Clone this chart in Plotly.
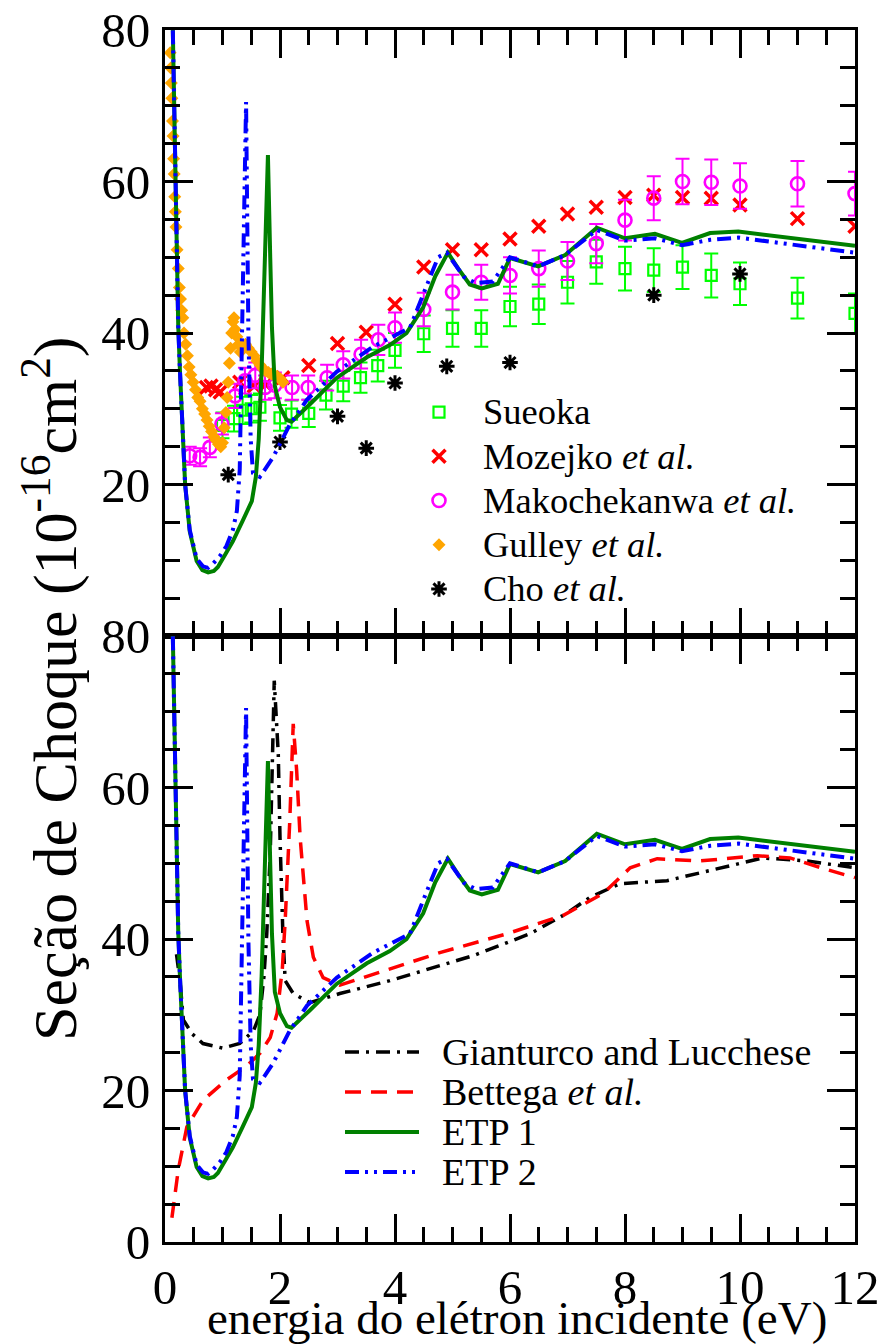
import plotly.graph_objects as go

# ---------------- data ----------------
# theory curves (shared by both panels)
etp1_x = [0.10, 0.14, 0.17, 0.20, 0.23, 0.26, 0.29, 0.35, 0.43, 0.55, 0.65, 0.75, 0.85, 0.92, 1.05, 1.18, 1.35,
          1.51, 1.58, 1.63, 1.68, 1.74, 1.79, 1.83, 1.86, 1.91, 2.00, 2.12, 2.20, 2.52, 2.99, 3.51, 3.91, 4.20,
          4.49, 4.70, 4.92, 5.10, 5.30, 5.51, 5.79, 6.00, 6.49, 6.96, 7.51, 8.00, 8.52, 8.99, 9.48, 9.97, 12.0]
etp1_y = [95.0, 79.6, 62.0, 51.3, 41.0, 35.0, 30.2, 20.0, 13.8, 9.9, 8.7, 8.4, 8.6, 9.1, 10.8, 12.5, 15.2,
          17.8, 21.0, 26.0, 35.0, 50.0, 63.5, 50.0, 40.7, 33.0, 30.2, 28.5, 28.3, 30.6, 34.1, 36.8, 38.4, 40.0,
          43.4, 47.5, 50.6, 48.5, 46.4, 45.9, 46.5, 49.9, 48.8, 50.3, 53.9, 52.5, 53.1, 51.9, 53.2, 53.4, 51.5]

etp2_x = [0.10, 0.14, 0.17, 0.20, 0.23, 0.26, 0.29, 0.35, 0.43, 0.55, 0.66, 0.75, 0.83, 0.95, 1.07, 1.18, 1.25,
          1.30, 1.34, 1.38, 1.41, 1.45, 1.49, 1.53, 1.65, 1.88, 2.17, 2.47, 2.99, 3.62, 3.97, 4.26, 4.49, 4.75,
          4.90, 5.20, 5.40, 5.70, 6.00, 6.49, 6.96, 7.51, 8.00, 8.52, 8.99, 9.48, 9.97, 12.0]
etp2_y = [95.0, 79.6, 62.0, 51.0, 41.0, 35.0, 30.0, 20.0, 14.0, 10.2, 9.2, 9.0, 9.5, 10.5, 11.9, 14.0, 16.5,
          22.0, 40.0, 58.0, 70.5, 40.0, 26.0, 21.5, 21.0, 23.6, 27.9, 31.2, 34.9, 38.2, 39.5, 40.7, 45.1, 50.0,
          50.6, 47.4, 46.6, 46.8, 50.0, 48.8, 50.3, 53.6, 52.2, 52.5, 51.6, 52.3, 52.6, 50.6]

gl_x = [0.20, 0.26, 0.32, 0.47, 0.66, 1.00, 1.30, 1.54, 1.65, 1.72, 1.77, 1.83, 1.90, 1.97, 2.00, 2.05, 2.09,
        2.23, 2.52, 3.04, 3.91, 4.49, 5.36, 6.35, 6.99, 7.39, 7.91, 8.73, 9.48, 10.4, 11.17, 12.0]
gl_y = [38.0, 34.5, 29.3, 27.5, 26.2, 25.6, 26.2, 27.9, 30.0, 35.0, 40.7, 51.3, 74.1, 64.4, 53.4, 40.7, 34.5,
        32.8, 31.6, 32.8, 34.5, 35.8, 37.8, 40.7, 43.4, 45.5, 47.3, 47.7, 49.0, 50.7, 50.3, 49.4]

bet_x = [0.12, 0.23, 0.38, 0.66, 1.07, 1.43, 1.65, 1.83, 1.95, 2.04, 2.09, 2.17, 2.23, 2.29, 2.35, 2.47, 2.58,
         2.75, 3.04, 3.97, 4.78, 5.95, 6.92, 7.62, 8.09, 8.56, 9.30, 10.3, 10.87, 11.45, 12.0]
bet_y = [3.2, 9.5, 15.2, 18.7, 21.4, 23.3, 24.9, 27.0, 30.2, 36.0, 42.4, 55.6, 68.4, 62.2, 53.4, 42.4, 37.6,
         34.9, 33.9, 36.2, 38.2, 40.7, 43.1, 46.0, 49.4, 50.6, 50.3, 51.0, 50.7, 49.3, 48.1]

# experiments (top panel)
sue_x = [1.0, 1.2, 1.35, 1.5, 1.65, 2.0, 2.2, 2.5, 2.8, 3.1, 3.4, 3.7, 4.0, 4.5, 5.0, 5.5, 6.0, 6.5, 7.0,
         7.5, 8.0, 8.5, 9.0, 9.5, 10.0, 11.0, 12.0]
sue_y = [27.8, 28.7, 29.8, 30.0, 30.2, 28.8, 29.3, 29.4, 31.8, 33.0, 34.1, 35.7, 37.7, 39.9, 40.6, 40.6, 43.5,
         43.8, 46.7, 49.4, 48.5, 48.3, 48.7, 47.6, 46.5, 44.6, 42.6]
sue_err = [1.7, 1.7, 1.8, 1.8, 1.8, 1.7, 1.8, 1.8, 1.9, 2.0, 2.0, 2.1, 2.3, 2.4, 2.4, 2.4, 2.6, 2.6, 2.8,
           2.9, 2.9, 2.9, 2.9, 2.9, 2.8, 2.7, 2.6]

moz_x = [0.72, 0.80, 0.88, 0.96, 1.30, 1.55, 1.75, 2.05, 2.5, 3.0, 3.5, 4.0, 4.5, 5.0, 5.5, 6.0, 6.5, 7.0,
         7.5, 8.0, 8.5, 9.0, 9.5, 10.0, 11.0, 12.0]
moz_y = [32.8, 33.0, 32.5, 32.2, 33.5, 33.0, 33.2, 34.1, 35.7, 38.6, 40.1, 43.8, 48.7, 51.0, 51.0, 52.4, 54.1,
         55.7, 56.6, 57.9, 58.2, 57.9, 57.8, 56.9, 55.1, 54.1]

mak_x = [0.43, 0.61, 0.78, 0.99, 1.22, 1.39, 1.57, 1.74, 1.91, 2.21, 2.49, 2.82, 3.1, 3.41, 3.71, 4.0, 4.5,
         5.0, 5.5, 6.0, 6.5, 7.0, 7.5, 8.0, 8.5, 9.0, 9.5, 10.0, 11.0, 12.0]
mak_y = [23.8, 23.6, 24.9, 28.0, 31.7, 33.7, 34.4, 32.8, 33.1, 32.8, 32.8, 34.1, 35.8, 37.2, 39.1, 40.7, 43.1,
         45.4, 46.7, 47.6, 48.5, 49.5, 51.8, 54.9, 57.8, 60.0, 59.9, 59.4, 59.7, 58.4]
mak_err = [1.2, 1.2, 1.3, 1.4, 1.6, 1.7, 1.7, 1.6, 1.7, 1.6, 1.6, 1.7, 1.8, 1.9, 2.0, 2.0, 2.2,
           2.3, 2.3, 2.4, 2.4, 2.5, 2.6, 2.7, 2.9, 3.0, 3.0, 3.0, 3.0, 2.9]

gul_x = [0.09, 0.10, 0.11, 0.12, 0.13, 0.14, 0.15, 0.16, 0.17, 0.18, 0.19, 0.21, 0.23, 0.25, 0.27, 0.29, 0.31,
         0.33, 0.36, 0.39, 0.42, 0.45, 0.49, 0.53, 0.57, 0.61, 0.65, 0.69, 0.73, 0.77, 0.81, 0.85, 0.89, 0.93,
         0.97, 1.00, 1.03, 1.06, 1.08, 1.10, 1.12, 1.14, 1.16, 1.18, 1.20, 1.22, 1.25, 1.28, 1.31, 1.35, 1.40,
         1.45, 1.50, 1.55, 1.60, 1.65, 1.70, 1.75, 1.80, 1.85, 1.90, 1.95, 2.00, 2.05]
gul_y = [77.0, 75.0, 73.0, 71.0, 68.0, 66.0, 63.0, 61.0, 58.0, 56.0, 54.0, 51.0, 48.5, 46.0, 44.5, 43.0, 42.0,
         40.0, 38.5, 37.0, 35.5, 34.5, 33.5, 32.5, 31.5, 31.0, 30.0, 29.3, 28.5, 27.7, 27.0, 26.3, 25.8, 25.3,
         25.0, 25.5, 27.5, 29.5, 31.5, 33.5, 36.0, 38.0, 40.0, 41.5, 42.0, 40.5, 39.5, 38.5, 37.5, 38.0, 38.5,
         38.0, 37.5, 37.0, 36.3, 35.8, 35.3, 35.0, 34.8, 34.6, 34.4, 34.3, 34.0, 33.5]

cho_x = [1.1, 2.0, 3.0, 3.5, 4.0, 4.9, 6.0, 8.5, 10.0]
cho_y = [21.3, 25.6, 29.0, 24.8, 33.4, 35.6, 36.1, 45.0, 47.8]

x_ticks = [0, 2, 4, 6, 8, 10, 12]
y_ticks_top = [20, 40, 60, 80]
y_ticks_bot = [0, 20, 40, 60, 80]

top_legend_names = ["Sueoka", "Mozejko <i>et al.</i>", "Makochekanwa <i>et al.</i>",
                    "Gulley <i>et al.</i>", "Cho <i>et al.</i>"]
bot_legend_names = ["Gianturco and Lucchese", "Bettega <i>et al.</i>", "ETP 1", "ETP 2"]

# ---------------- styling ----------------
FONT = "Liberation Serif"
GREEN = "#008000"
BLUE = "#0000ff"
RED = "#ff0000"
BLACK = "#000000"
LIME = "#00ff00"
MAGENTA = "#ff00ff"
ORANGE = "#ffa500"

DASH_GL = "14px,7px,3px,7px"
DASH_BET = "16px,10px"
DASH_ETP2 = "14px,6px,3px,6px,3px,6px"


def big(s):
    return '<span style="font-size:36.5px">' + s + '</span>'


fig = go.Figure()

# ---- top panel: experiments ----
fig.add_trace(go.Scatter(x=sue_x, y=sue_y, mode="markers", name=big(top_legend_names[0]),
                         marker=dict(symbol="square-open", size=11, color=LIME, line=dict(width=2.2, color=LIME)),
                         error_y=dict(type="data", array=sue_err, color=LIME, thickness=2, width=7),
                         xaxis="x", yaxis="y"))
fig.add_trace(go.Scatter(x=moz_x, y=moz_y, mode="markers", name=big(top_legend_names[1]),
                         marker=dict(symbol="x-thin-open", size=13, color=RED, line=dict(width=3.5, color=RED)),
                         xaxis="x", yaxis="y"))
fig.add_trace(go.Scatter(x=mak_x, y=mak_y, mode="markers", name=big(top_legend_names[2]),
                         marker=dict(symbol="circle-open", size=13, color=MAGENTA, line=dict(width=2.6, color=MAGENTA)),
                         error_y=dict(type="data", array=mak_err, color=MAGENTA, thickness=2, width=7),
                         xaxis="x", yaxis="y"))
fig.add_trace(go.Scatter(x=gul_x, y=gul_y, mode="markers", name=big(top_legend_names[3]),
                         marker=dict(symbol="diamond", size=10, color=ORANGE, line=dict(width=0)),
                         xaxis="x", yaxis="y"))
fig.add_trace(go.Scatter(x=cho_x, y=cho_y, mode="markers", name=big(top_legend_names[4]),
                         marker=dict(symbol="asterisk-open", size=13, color=BLACK, line=dict(width=3, color=BLACK)),
                         xaxis="x", yaxis="y"))
# ---- top panel: theory ----
fig.add_trace(go.Scatter(x=etp1_x, y=etp1_y, mode="lines", showlegend=False,
                         line=dict(color=GREEN, width=4), xaxis="x", yaxis="y"))
fig.add_trace(go.Scatter(x=etp2_x, y=etp2_y, mode="lines", showlegend=False,
                         line=dict(color=BLUE, width=4, dash=DASH_ETP2), xaxis="x", yaxis="y"))

# ---- bottom panel ----
fig.add_trace(go.Scatter(x=gl_x, y=gl_y, mode="lines", showlegend=False,
                         line=dict(color=BLACK, width=3.5, dash=DASH_GL), xaxis="x2", yaxis="y2"))
fig.add_trace(go.Scatter(x=bet_x, y=bet_y, mode="lines", showlegend=False,
                         line=dict(color=RED, width=3.5, dash=DASH_BET), xaxis="x2", yaxis="y2"))
fig.add_trace(go.Scatter(x=etp1_x, y=etp1_y, mode="lines", showlegend=False,
                         line=dict(color=GREEN, width=4), xaxis="x2", yaxis="y2"))
fig.add_trace(go.Scatter(x=etp2_x, y=etp2_y, mode="lines", showlegend=False,
                         line=dict(color=BLUE, width=4, dash=DASH_ETP2), xaxis="x2", yaxis="y2"))

# ---- geometry helpers ----
W, H = 880, 1344
ML, MR, MT, MB = 165, 25, 30, 102
PW, PH = W - ML - MR, H - MT - MB


def px2paper_x(px):
    return (px - ML) / PW


def px2paper_y(py):
    return (H - MB - py) / PH


# ---- manual legend for bottom panel (line samples + labels) ----
bot_styles = [(BLACK, DASH_GL, 3.5), (RED, DASH_BET, 3.5), (GREEN, "solid", 4), (BLUE, DASH_ETP2, 4)]
shapes = []
annotations = []
for i, (label, (col, dash, lw)) in enumerate(zip(bot_legend_names, bot_styles)):
    yc = 1052 + i * 40
    shapes.append(dict(type="line", xref="paper", yref="paper",
                       x0=px2paper_x(345), x1=px2paper_x(419), y0=px2paper_y(yc), y1=px2paper_y(yc),
                       line=dict(color=col, width=lw, dash=dash)))
    annotations.append(dict(text=label, xref="paper", yref="paper", x=px2paper_x(440), y=px2paper_y(yc),
                            xanchor="left", yanchor="middle", showarrow=False,
                            font=dict(family=FONT, size=38, color="black")))

annotations.append(dict(text="Seção de Choque (10<sup>-16</sup>cm<sup>2</sup>)", xref="paper", yref="paper",
                        x=px2paper_x(50), y=px2paper_y(689), textangle=-90, showarrow=False,
                        xanchor="center", yanchor="middle", font=dict(family=FONT, size=62, color="black")))
annotations.append(dict(text="energia do elétron incidente (eV)", xref="paper", yref="paper",
                        x=px2paper_x(517), y=px2paper_y(1318), showarrow=False,
                        xanchor="center", yanchor="middle", font=dict(family=FONT, size=47, color="black")))

axis_common = dict(showline=True, linewidth=3, linecolor="black", mirror="ticks", ticks="inside",
                   ticklen=28, tickwidth=3, tickcolor="black", showgrid=False, zeroline=False,
                   automargin=False, tickfont=dict(family=FONT, size=49, color="black"))
minor_x = dict(dtick=0.5, tick0=0, ticks="inside", ticklen=15, tickwidth=3, tickcolor="black", showgrid=False)
minor_y = dict(dtick=5, tick0=0, ticks="inside", ticklen=15, tickwidth=3, tickcolor="black", showgrid=False)

fig.update_layout(
    width=W, height=H,
    margin=dict(l=ML, r=MR, t=MT, b=MB),
    paper_bgcolor="white", plot_bgcolor="white",
    font=dict(family=FONT, color="black"),
    xaxis=dict(domain=[0, 1], range=[0, 12], anchor="y", tickvals=x_ticks, showticklabels=False,
               minor=minor_x, **axis_common),
    yaxis=dict(domain=[0.5, 1], range=[0, 80], anchor="x", tickvals=y_ticks_top,
               minor=minor_y, ticklabelstandoff=2, **axis_common),
    xaxis2=dict(domain=[0, 1], range=[0, 12], anchor="y2", tickvals=x_ticks, minor=minor_x,
                ticklabelstandoff=0, **axis_common),
    yaxis2=dict(domain=[0, 0.5], range=[0, 80], anchor="x2", tickvals=y_ticks_bot, minor=minor_y,
                ticklabelstandoff=2, **axis_common),
    legend=dict(x=px2paper_x(395), y=px2paper_y(385), xanchor="left", yanchor="top",
                bgcolor="rgba(0,0,0,0)", borderwidth=0, font=dict(family=FONT, size=31.7, color="black"),
                itemwidth=78, tracegroupgap=0),
    shapes=shapes,
    annotations=annotations,
)

fig.write_html("out.html", config={"displayModeBar": False},
               post_script="document.body.style.margin='0';")
